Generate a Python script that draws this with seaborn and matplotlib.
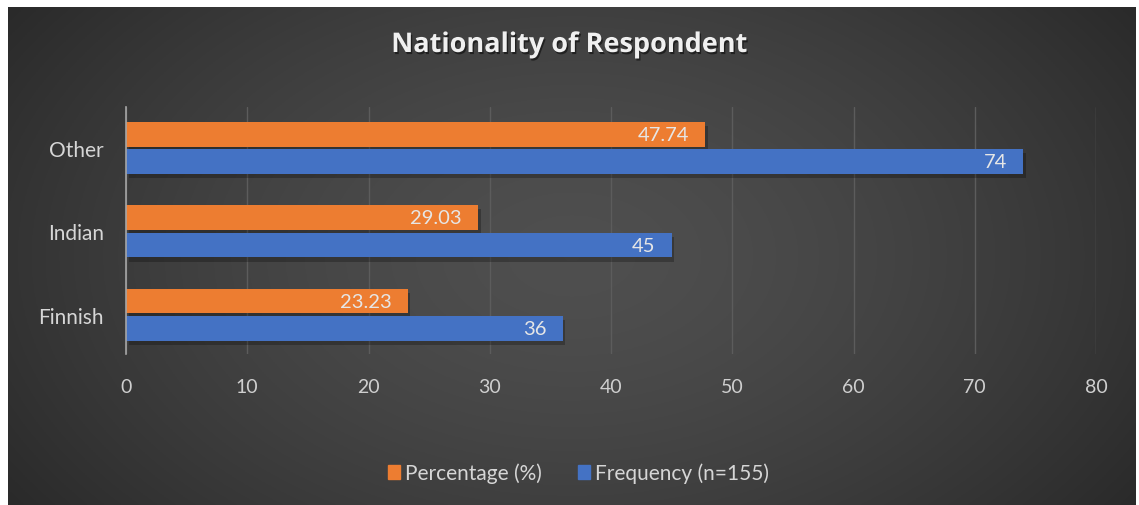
import numpy as np
import pandas as pd
import matplotlib.pyplot as plt
import matplotlib.patheffects as pe
import seaborn as sns

categories = ['Other', 'Indian', 'Finnish']
percentage = [47.74, 29.03, 23.23]
frequency = [74, 45, 36]
series_names = ['Percentage (%)', 'Frequency (n=155)']
colors = ['#ED7D31', '#4472C4']

df = pd.DataFrame({
    'Nationality': categories * 2,
    'Series': [series_names[0]] * 3 + [series_names[1]] * 3,
    'Value': percentage + frequency,
})

sns.set_theme(style='dark')
plt.rcParams['font.family'] = ['Lato', 'DejaVu Sans']

fig = plt.figure(figsize=(11.39, 5.06), dpi=100)
fig.patch.set_facecolor('white')

# dark radial background like the Excel style
bg = fig.add_axes([8 / 1139, 0, 1128 / 1139, 498 / 506])
yy, xx = np.mgrid[0:1:300j, 0:1:600j]
r = np.sqrt(((xx - 0.5) / 0.62) ** 2 + ((yy - 0.5) / 0.9) ** 2)
r = np.clip(r, 0, 1)
light = np.array([0.31, 0.31, 0.31])
dark = np.array([0.16, 0.16, 0.16])
img = light[None, None, :] * (1 - r[..., None] ** 1.5) + dark[None, None, :] * (r[..., None] ** 1.5)
bg.imshow(img, aspect='auto', extent=[0, 1, 0, 1])
bg.set_axis_off()

ax = fig.add_axes([126 / 1139, 1 - 355 / 506, 970 / 1139, 247 / 506])
ax.set_facecolor('none')

sns.barplot(data=df, y='Nationality', x='Value', hue='Series', order=categories,
            hue_order=series_names, palette=colors, orient='h',
            width=0.66, gap=0.1, saturation=1, ax=ax, legend=True,
            edgecolor='none', linewidth=0)

shadow = [pe.SimplePatchShadow(offset=(2, -3), shadow_rgbFace='black', alpha=0.25), pe.Normal()]
for bar in ax.patches:
    bar.set_path_effects(shadow)

for container in ax.containers:
    texts = ax.bar_label(container, fmt='%g', padding=-11.5, color='#e6e6e6', fontsize=14.5)
    for t in texts:
        t.set_ha('right')

ax.set_xlim(0, 80)
ax.set_ylim(2.47, -0.49)
ax.set_xticks(range(0, 81, 10))
ax.xaxis.grid(True, color='#5c5c5c', linewidth=1)
ax.yaxis.grid(False)
ax.set_axisbelow(True)
ax.set_xlabel('')
ax.set_ylabel('')
ax.tick_params(axis='x', colors='#cfcfcf', labelsize=14, length=0, pad=17)
ax.tick_params(axis='y', colors='#d6d6d6', labelsize=15, length=0, pad=16)
for side in ['top', 'right', 'bottom']:
    ax.spines[side].set_visible(False)
ax.spines['left'].set_color('#a6a6a6')
ax.spines['left'].set_linewidth(1.2)

ax.legend_.remove()
handles = [plt.Rectangle((0, 0), 1, 1, color=c) for c in colors]
fig.legend(handles, series_names, loc='center', bbox_to_anchor=(0.508, 1 - 474 / 506),
           ncol=2, frameon=False, fontsize=15, labelcolor='#d6d6d6',
           handlelength=0.6, handleheight=0.6, handletextpad=0.25, columnspacing=1.7)

title = fig.text(0.5, 1 - 46 / 506, 'Nationality of Respondent', ha='center', va='center',
                 fontsize=19.5, fontweight='bold', color='#f0f0f0', family='Open Sans')
title.set_path_effects([pe.withSimplePatchShadow(offset=(1, -1.5), shadow_rgbFace='black', alpha=0.5)])

plt.savefig('out.png', dpi=100)
